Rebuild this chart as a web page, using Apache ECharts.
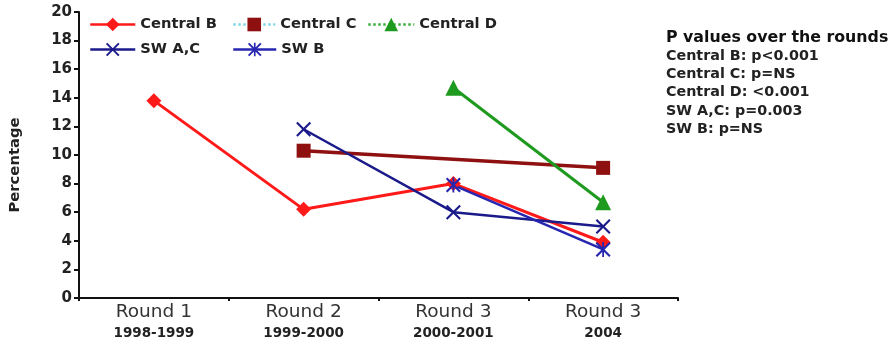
<!DOCTYPE html>
<html>
<head>
<meta charset="utf-8">
<script src="https://cdn.jsdelivr.net/npm/echarts@6/dist/echarts.min.js"></script>
<style>
html,body{margin:0;padding:0;background:#fff;}
#chart{width:892px;height:347px;}
</style>
</head>
<body>
<div id="chart"></div>
<script>
var categories = ['Round 1\n1998-1999', 'Round 2\n1999-2000', 'Round 3\n2000-2001', 'Round 3\n2004'];
var yTicks = [0, 2, 4, 6, 8, 10, 12, 14, 16, 18, 20];
var centralB = [13.8, 6.2, 8.0, 3.9];
var centralC = [null, 10.3, null, 9.1];
var centralD = [null, null, 14.7, 6.7];
var swAC = [null, 11.8, 6.0, 5.0];
var swB = [null, null, 7.9, 3.4];
var yTitle = 'Percentage';
var pTitle = 'P values over the rounds';
var pLines = ['Central B: p<0.001', 'Central C: p=NS', 'Central D: <0.001', 'SW A,C: p=0.003', 'SW B: p=NS'];

var FONT = '"DejaVu Sans", Verdana, sans-serif';
var X_PATH = 'path://M0,1 L1,0 L5,4 L9,0 L10,1 L6,5 L10,9 L9,10 L5,6 L1,10 L0,9 L4,5 Z';
var AST_PATH = 'path://M0,1 L1,0 L5,4 L9,0 L10,1 L6,5 L10,9 L9,10 L5,6 L1,10 L0,9 L4,5 Z M4.4,0 L5.6,0 L5.6,10 L4.4,10 Z';

var cols = {
  b: '#ff1a1a', c: '#8e1010', d: '#1e9a1e', ac: '#1a1a8a', sb: '#2626b0'
};

function mkSeries(name, data, color, symbol, size, width) {
  return {
    name: name, type: 'line', data: data, connectNulls: true,
    symbol: symbol, symbolSize: size, showSymbol: true,
    lineStyle: {color: color, width: width},
    itemStyle: {color: color},
    emphasis: {disabled: true}, animation: false
  };
}

function mkLegend(name, left, top, w, lineColor, lineType) {
  var item = {name: name, lineStyle: {color: lineColor, type: lineType || 'solid', width: 2.5}};
  return {
    data: [item], left: left, top: top, itemWidth: w, itemHeight: 17,
    itemGap: 0, padding: 0,
    textStyle: {fontFamily: FONT, fontSize: 14.7, fontWeight: 'bold', color: '#222'},
    selectedMode: false
  };
}

var chart = echarts.init(document.getElementById('chart'), null, {renderer: 'canvas'});
chart.setOption({
  backgroundColor: '#fff',
  animation: false,
  grid: {left: 79, right: 214, top: 12, bottom: 49, containLabel: false},
  legend: [
    mkLegend('Central B', 89, 17, 45, cols.b),
    mkLegend('Central C', 232, 17, 42, '#7fd8e8', 'dotted'),
    mkLegend('Central D', 367, 17, 46, '#3cb03c', 'dotted'),
    mkLegend('SW A,C', 89, 42, 45, cols.ac),
    mkLegend('SW B', 232, 42, 43, cols.sb)
  ],
  xAxis: {
    type: 'category', data: categories, boundaryGap: true,
    axisLine: {lineStyle: {color: '#111', width: 2}},
    axisTick: {show: true, length: 3, lineStyle: {color: '#111', width: 2}},
    axisLabel: {
      margin: 4,
      formatter: function (v) {
        var p = v.split('\n');
        return '{a|' + p[0] + '}\n{b|' + p[1] + '}';
      },
      rich: {
        a: {fontFamily: FONT, fontSize: 18.5, color: '#333', lineHeight: 21},
        b: {fontFamily: FONT, fontSize: 13.5, fontWeight: 'bold', color: '#222', lineHeight: 20}
      }
    }
  },
  yAxis: {
    type: 'value', min: yTicks[0], max: yTicks[yTicks.length - 1], interval: 2,
    axisLine: {show: true, lineStyle: {color: '#111', width: 2}},
    axisTick: {show: true, length: 5, lineStyle: {color: '#111', width: 2}},
    splitLine: {show: false},
    axisLabel: {margin: 7, color: '#222', fontFamily: FONT, fontSize: 15, fontWeight: 'bold'}
  },
  series: [
    mkSeries('Central B', centralB, cols.b, 'diamond', 15, 3),
    mkSeries('Central C', centralC, cols.c, 'rect', 14, 3.5),
    mkSeries('Central D', centralD, cols.d, 'triangle', 16, 3),
    mkSeries('SW A,C', swAC, cols.ac, X_PATH, 15, 2.5),
    mkSeries('SW B', swB, cols.sb, AST_PATH, 15, 2.5)
  ],
  graphic: [
    {type: 'text', x: 15, y: 165, rotation: Math.PI / 2, style: {
      text: yTitle, font: 'bold 14.8px ' + FONT, fill: '#222', align: 'center', verticalAlign: 'middle'
    }},
    {type: 'text', x: 666, y: 38, style: {text: pTitle, font: 'bold 15.8px ' + FONT, fill: '#111', verticalAlign: 'middle'}},
    {type: 'text', x: 666, y: 47, style: {
      text: pLines.join('\n'), font: 'bold 14.3px ' + FONT, fill: '#222', lineHeight: 18.3, verticalAlign: 'top'
    }}
  ]
});
</script>
</body>
</html>
